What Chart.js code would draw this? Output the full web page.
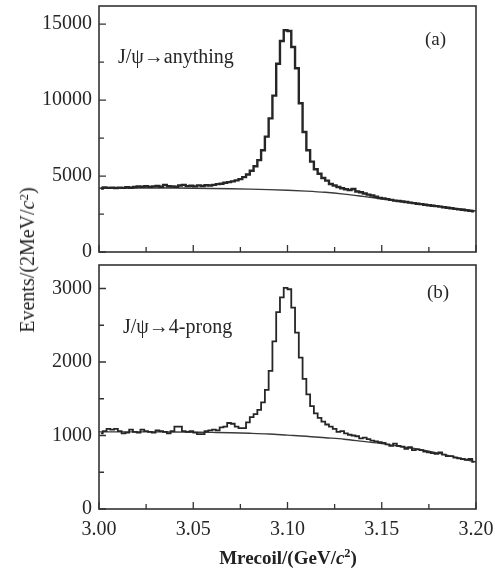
<!DOCTYPE html>
<html><head><meta charset="utf-8">
<script src="https://cdn.jsdelivr.net/npm/chart.js@4"></script>
<style>
html,body{margin:0;padding:0;background:#fff;}
#wrap{position:relative;width:495px;height:574px;overflow:hidden;font-family:"Liberation Serif","DejaVu Serif",serif;color:#222;}
canvas{position:absolute;left:0;}
#c1{top:0;}
#c2{top:258px;}
.yt{position:absolute;left:27px;top:260px;transform:translate(-50%,-50%) rotate(-90deg);white-space:nowrap;font-size:20px;line-height:1;}
.xt{position:absolute;left:288px;top:557px;transform:translate(-50%,-50%);white-space:nowrap;font-size:19px;font-weight:bold;line-height:1;}
sup{font-size:0.65em;vertical-align:0.5em;line-height:0;}
</style></head>
<body>
<div id="wrap">
<canvas id="c1" width="495" height="262"></canvas>
<canvas id="c2" width="495" height="316"></canvas>
<div class="yt">Events/(2MeV/<i>c</i><sup>2</sup>)</div>
<div class="xt">Mrecoil/(GeV/<i>c</i><sup>2</sup>)</div>
</div>
<script>
// ---- data ----
const binStart = 3.000;
const binWidth = 0.002;
const xTickLabels = ['3.00','3.05','3.10','3.15','3.20'];
const topYTicks = [0, 5000, 10000, 15000];
const botYTicks = [0, 1000, 2000, 3000];

const topCounts = [
 4180,4250,4220,4230,4210,4240,4220,4260,4230,4280,
 4310,4300,4330,4290,4320,4350,4300,4420,4330,4310,
 4300,4380,4420,4340,4360,4320,4390,4350,4400,4380,
 4420,4470,4490,4560,4600,4650,4720,4800,4930,5100,
 5350,5650,6050,6700,7600,8800,10300,12400,13900,14600,
 14550,13500,12100,9800,7900,6700,5950,5450,5150,4870,
 4700,4480,4380,4280,4200,4130,4080,4150,3980,3930,
 3850,3780,3720,3640,3560,3520,3480,3430,3380,3360,
 3330,3290,3250,3220,3180,3150,3110,3080,3050,3020,
 2990,2950,2910,2880,2840,2810,2780,2740,2710,2680
];
const bgX = [3.00,3.01,3.02,3.03,3.04,3.05,3.06,3.07,3.08,3.09,3.10,3.11,3.12,3.13,3.14,3.15,3.16,3.17,3.18,3.19,3.20];
const topBgY = [4200,4210,4215,4215,4210,4200,4185,4165,4140,4110,4070,4010,3930,3810,3660,3500,3340,3180,3020,2860,2700];

const botCounts = [
 1030,1060,1090,1080,1090,1060,1030,1040,1080,1050,
 1040,1080,1060,1050,1040,1070,1060,1050,1030,1060,
 1120,1120,1060,1050,1060,1040,1020,1020,1060,1070,
 1080,1070,1110,1120,1170,1160,1120,1100,1100,1180,
 1250,1290,1350,1450,1620,1880,2280,2680,2880,3010,
 2990,2740,2400,2060,1770,1560,1400,1300,1240,1190,
 1150,1120,1090,1050,1060,1030,1010,1000,990,960,
 970,950,930,920,910,900,880,860,890,860,
 850,820,840,800,810,800,780,770,760,750,
 770,740,720,720,700,690,680,670,680,640
];
const botBgY = [1050,1050,1050,1050,1048,1045,1042,1038,1030,1020,1005,990,970,950,920,890,850,810,760,700,640];

// ---- helpers ----
const serif = '"Liberation Serif","DejaVu Serif",serif';
const ink = '#262626';
function hist(counts){ return counts.map((v,i)=>({x: binStart + binWidth*(i+0.5), y: v})); }
function curve(xs, ys){ return xs.map((x,i)=>({x, y: ys[i]})); }

const frameTicks = {
  id: 'frameTicks',
  afterDraw(chart, args, o){
    const {ctx, chartArea: a, scales: {x, y}} = chart;
    ctx.save();
    ctx.strokeStyle = '#333';
    ctx.lineWidth = 1.6;
    ctx.strokeRect(a.left, a.top, a.right - a.left, a.bottom - a.top);
    ctx.lineWidth = 1.3;
    ctx.beginPath();
    const nx = Math.round((x.max - x.min) / o.xStep);
    for (let i = 0; i <= nx; i++) {
      const v = x.min + i * o.xStep;
      const px = x.getPixelForValue(v);
      const L = (i % o.xMajorEvery === 0) ? 7 : 5;
      ctx.moveTo(px, a.bottom); ctx.lineTo(px, a.bottom - L);
    }
    const ny = Math.floor((y.max - y.min) / o.yStep + 1e-9);
    for (let i = 0; i <= ny; i++) {
      const v = y.min + i * o.yStep;
      const py = y.getPixelForValue(v);
      const L = (i % 2 === 0) ? 7 : 5;
      ctx.moveTo(a.left, py); ctx.lineTo(a.left + L, py);
    }
    ctx.stroke();
    // annotations
    ctx.fillStyle = ink;
    ctx.textBaseline = 'middle';
    ctx.textAlign = 'left';
    ctx.font = '20px ' + serif;
    ctx.fillText(o.label, a.left + o.labelDx, a.top + o.labelDy);
    ctx.font = '19px ' + serif;
    ctx.fillText(o.tag, a.left + o.tagDx, a.top + o.tagDy);
    ctx.restore();
  }
};

function makeChart(id, counts, bgY, yMax, yTicks, opts){
  const bottom = opts.bottom;
  return new Chart(document.getElementById(id), {
    type: 'line',
    data: {
      datasets: [
        { data: hist(counts), stepped: 'middle', borderColor: ink, borderWidth: opts.histWidth, pointRadius: 0, fill: false },
        { data: curve(bgX, bgY), borderColor: '#3a3a3a', borderWidth: 1.4, pointRadius: 0, tension: 0.4, cubicInterpolationMode: 'monotone', fill: false }
      ]
    },
    options: {
      responsive: false, animation: false, events: [],
      layout: { padding: { left: 0, right: 19, top: opts.padTop, bottom: opts.padBottom } },
      plugins: {
        legend: { display: false }, tooltip: { enabled: false },
        frameTicks: opts.frame
      },
      scales: {
        x: {
          type: 'linear', min: 3.0, max: 3.2,
          afterBuildTicks(s){ s.ticks = xTickLabels.map(t => ({ value: parseFloat(t) })); },
          afterFit(s){ s.height = opts.xHeight; s.paddingLeft = 0; s.paddingRight = 0; s.paddingTop = 0; s.paddingBottom = 0; },
          grid: { display: false, drawTicks: false }, border: { display: false },
          ticks: bottom ? {
            display: true, autoSkip: false, maxRotation: 0, padding: 9,
            font: { family: serif, size: 20 }, color: ink,
            callback: (v) => Number(v).toFixed(2)
          } : { display: false }
        },
        y: {
          min: 0, max: yMax,
          afterBuildTicks(s){ s.ticks = yTicks.map(v => ({ value: v })); },
          afterFit(s){ s.width = 99; s.paddingTop = 0; s.paddingBottom = 0; s.paddingLeft = 0; s.paddingRight = 0; },
          grid: { display: false, drawTicks: false }, border: { display: false },
          ticks: {
            autoSkip: false, padding: 7,
            font: { family: serif, size: 20 }, color: ink,
            callback: (v) => String(v)
          }
        }
      }
    },
    plugins: [frameTicks]
  });
}

makeChart('c1', topCounts, topBgY, 16200, topYTicks, {
  bottom: false, histWidth: 2.4, padTop: 6, padBottom: 10, xHeight: 0,
  frame: { xStep: 0.025, xMajorEvery: 2, yStep: 2500, label: 'J/\u03C8\u2192anything', labelDx: 19, labelDy: 52, tag: '(a)', tagDx: 326, tagDy: 34 }
});
makeChart('c2', botCounts, botBgY, 3320, botYTicks, {
  bottom: true, histWidth: 1.8, padTop: 7, padBottom: 0, xHeight: 65,
  frame: { xStep: 0.025, xMajorEvery: 2, yStep: 500, label: 'J/\u03C8\u21924-prong', labelDx: 24, labelDy: 63, tag: '(b)', tagDx: 328, tagDy: 28 }
});
</script>
</body></html>
